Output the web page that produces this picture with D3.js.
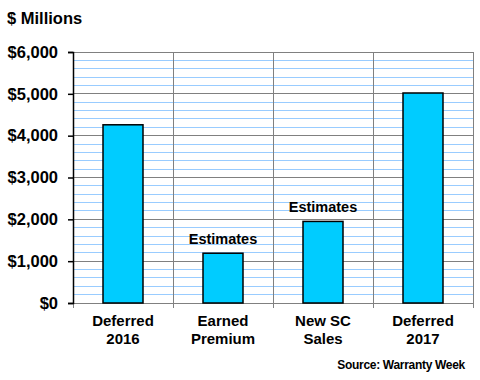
<!DOCTYPE html>
<html>
<head>
<meta charset="utf-8">
<script src="https://cdn.jsdelivr.net/npm/d3@7"></script>
<style>
  body { margin: 0; background: #fff; }
  text { font-family: Arial, "Liberation Sans", sans-serif; font-weight: bold; fill: #000; }
</style>
</head>
<body>
<script>
// данные графика
const categories = ['Deferred\n2016', 'Earned\nPremium', 'New SC\nSales', 'Deferred\n2017']
const values = [4260, 1190, 1950, 5020]
const notes = ['', 'Estimates', 'Estimates', '']
const yTicks = [0, 1000, 2000, 3000, 4000, 5000, 6000]

const width = 480, height = 380
const plot = {left: 73, right: 473, top: 52, bottom: 303}

const svg = d3.select('body').append('svg').attr('width', width).attr('height', height)

const x = d3.scaleBand(d3.range(categories.length), [plot.left, plot.right]).paddingInner(0.6).paddingOuter(0.3)
const y = d3.scaleLinear([0, 6000], [plot.bottom, plot.top])

// мелкая сетка через каждые 200
svg.append('g').selectAll('line')
    .data(d3.range(200, 6000, 200).filter(d => d % 1000))
    .join('line')
    .attr('x1', plot.left).attr('x2', plot.right)
    .attr('y1', d => y(d)).attr('y2', d => y(d))
    .attr('stroke', '#99ccff').attr('stroke-width', 1)
    .attr('shape-rendering', 'crispEdges')

// основная сетка
svg.append('g').selectAll('line')
    .data(yTicks.slice(1))
    .join('line')
    .attr('x1', plot.left).attr('x2', plot.right)
    .attr('y1', d => y(d)).attr('y2', d => y(d))
    .attr('stroke', '#808080')
    .attr('shape-rendering', 'crispEdges')

// вертикальные линии между категориями
const bounds = d3.range(categories.length + 1).map(i => plot.left + i * x.step())
svg.append('g').selectAll('line')
    .data(bounds)
    .join('line')
    .attr('x1', d => d).attr('x2', d => d)
    .attr('y1', plot.top).attr('y2', plot.bottom + 5)
    .attr('stroke', '#808080')
    .attr('shape-rendering', 'crispEdges')

// нижняя ось
svg.append('line')
    .attr('x1', plot.left).attr('x2', plot.right)
    .attr('y1', plot.bottom).attr('y2', plot.bottom)
    .attr('stroke', '#808080')
    .attr('shape-rendering', 'crispEdges')

// столбцы
svg.append('g').selectAll('rect')
    .data(values)
    .join('rect')
    .attr('x', (d, i) => x(i))
    .attr('y', d => y(d))
    .attr('width', x.bandwidth())
    .attr('height', d => plot.bottom - y(d))
    .attr('fill', '#00ccff')
    .attr('stroke', '#000').attr('stroke-width', 1.5)

// подписи "Estimates"
svg.append('g').selectAll('text')
    .data(values)
    .join('text')
    .attr('x', (d, i) => x(i) + x.bandwidth() / 2)
    .attr('y', d => y(d) - 9)
    .attr('text-anchor', 'middle')
    .style('font-size', '14.5px')
    .text((d, i) => notes[i])

// левая ось
const yAxis = svg.append('g')
    .attr('transform', `translate(${plot.left},0)`)
    .call(d3.axisLeft(y).tickValues(yTicks).tickSize(5).tickPadding(10)
        .tickFormat(d => '$' + d3.format(',')(d)))
yAxis.select('.domain').attr('stroke', '#000').attr('stroke-width', 1.5)
yAxis.selectAll('.tick line').attr('stroke', '#000').attr('stroke-width', 1.5)
yAxis.selectAll('.tick text')
    .style('font-size', '16.5px').style('font-family', 'Arial, "Liberation Sans", sans-serif')
    .style('font-weight', 'bold').attr('fill', '#000')

// подписи категорий
svg.append('g').selectAll('text')
    .data(categories)
    .join('text')
    .attr('x', (d, i) => x(i) + x.bandwidth() / 2)
    .attr('y', 326)
    .attr('text-anchor', 'middle')
    .style('font-size', '15px')
    .each(function (d) {
        const el = d3.select(this)
        d.split('\n').forEach((line, k) => {
            el.append('tspan')
                .attr('x', el.attr('x'))
                .attr('dy', k ? 17.5 : 0)
                .text(line)
        })
    })

// заголовок и источник
svg.append('text').attr('x', 7).attr('y', 24).style('font-size', '16.5px').text('$ Millions')
svg.append('text').attr('x', 465).attr('y', 369).attr('text-anchor', 'end')
    .style('font-size', '12px').style('letter-spacing', '-0.3px').text('Source: Warranty Week')
</script>
</body>
</html>
